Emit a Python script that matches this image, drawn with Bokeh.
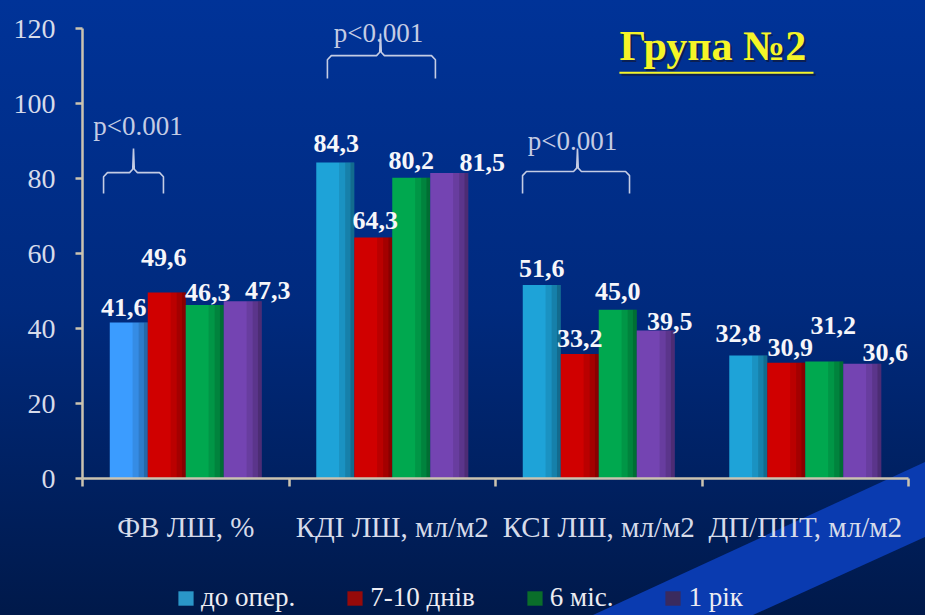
from urllib.parse import quote

from bokeh.plotting import figure
from bokeh.layouts import column
from bokeh.models import Range1d, FixedTicker, Legend, LegendItem, ColumnDataSource
from bokeh.core.properties import value
from bokeh.embed import file_html
from bokeh.resources import INLINE

# ---- data -------------------------------------------------------------
categories = ["ФВ ЛШ, %", "КДІ ЛШ, мл/м2", "КСІ ЛШ, мл/м2", "ДП/ППТ, мл/м2"]
series_names = ["до опер.", "7-10 днів", "6 міс.", "1 рік"]
before_op = [41.6, 84.3, 51.6, 32.8]
days_7_10 = [49.6, 64.3, 33.2, 30.9]
months_6 = [46.3, 80.2, 45.0, 31.2]
year_1 = [47.3, 81.5, 39.5, 30.6]
y_ticks = [0, 20, 40, 60, 80, 100, 120]
p_text = "p<0.001"
title_text = "Група №2"

series = [before_op, days_7_10, months_6, year_1]

# ---- styling ----------------------------------------------------------
SERIF = "Liberation Serif"
W, H, LEG_H = 925, 615, 35
bar_colors = [
    ["#3b9cff", "#1ea3d8", "#1ea3d8", "#1ea3d8"],
    ["#d00000"] * 4,
    ["#00a84f"] * 4,
    ["#7444b2"] * 4,
]
legend_colors = ["#2a96c8", "#960a0a", "#0a6e2a", "#3a2a5e"]
bar_offsets = [-0.276, -0.092, 0.092, 0.276]
bar_width = 0.184
# value label nudges in screen pixels (dx, dy)
label_nudge = [
    [(-5, -15), (1, -19), (0, -17), (-10, -22)],
    [(-3, -35), (2, -17), (0, -16), (4, -15)],
    [(3, -12), (0, -17), (0, -18), (9, -36)],
    [(25, -11), (33, -10), (14, -9), (23, -11)],
]
axis_color = "#cbc3b0"
tick_label_color = "#d6dbea"

# slide backdrop: vertical blue gradient with a diagonal band
backdrop_svg = (
    f'<svg xmlns="http://www.w3.org/2000/svg" width="{W}" height="{H}">'
    '<defs><linearGradient id="g" x1="0" y1="0" x2="0" y2="1">'
    '<stop offset="0" stop-color="#003398"/>'
    '<stop offset="0.5" stop-color="#002a7e"/>'
    '<stop offset="1" stop-color="#00194a"/>'
    '</linearGradient></defs>'
    f'<rect width="{W}" height="{H}" fill="url(#g)"/>'
    '<polygon points="925,462 925,537 753,615 593,615" fill="#0a3bb0"/>'
    '</svg>'
)

p = figure(
    width=W, height=H - LEG_H,
    x_range=Range1d(0, 4), y_range=Range1d(0, 127.5),
    output_backend="svg", toolbar_location=None, title=None,
    min_border_left=82, min_border_right=17,
    min_border_top=0, min_border_bottom=H - LEG_H - 478,
)
p.background_fill_alpha = 0
p.border_fill_alpha = 0
p.outline_line_color = None
p.grid.visible = False

# ---- bars -------------------------------------------------------------
sources = []
for si, vals in enumerate(series):
    xs = [i + 0.5 + bar_offsets[si] for i in range(len(categories))]
    src = ColumnDataSource(dict(
        x=xs, top=vals, color=bar_colors[si],
        label=[f"{v:.1f}".replace(".", ",") for v in vals],
        dx=[d[0] for d in label_nudge[si]],
        dy=[d[1] for d in label_nudge[si]],
    ))
    sources.append(src)
    p.vbar(x="x", top="top", width=bar_width, source=src,
           fill_color="color", line_color=None)
    # soft shading towards the right edge of each bar
    for frac, alpha in [(0.40, 0.10), (0.24, 0.12), (0.10, 0.16)]:
        sx = [x + bar_width / 2 - bar_width * frac / 2 for x in xs]
        p.vbar(x=sx, top=vals, width=bar_width * frac,
               fill_color="black", fill_alpha=alpha, line_color=None)

# value labels sit on top of every bar
for src in sources:
    p.text(x="x", y="top", text="label", source=src,
           x_offset="dx", y_offset="dy",
           text_align="center", text_baseline="alphabetic",
           text_font=value(SERIF), text_font_style="bold",
           text_font_size="26px", text_color="#f6f6fa")

# ---- significance braces ---------------------------------------------
braces = [
    # x0, x1, xc, y_end, y_bar, y_peak, text_x, text_y
    (0.102, 0.392, 0.247, 76.0, 81.6, 88.0, 0.269, 94.1),
    (1.186, 1.709, 1.443, 106.7, 112.8, 118.7, 1.433, 118.9),
    (2.131, 2.649, 2.397, 76.0, 81.9, 88.0, 2.373, 90.1),
]
bx, by = 0.019, 1.1
for x0, x1, xc, ye, yb, yp, tx, ty in braces:
    xs = [x0, x0, x0 + bx, xc - bx, xc - bx * 0.2, xc,
          xc + bx * 0.2, xc + bx, x1 - bx, x1, x1]
    ys = [ye, yb - by, yb, yb, yb + by * 0.8, yp,
          yb + by * 0.8, yb, yb, yb - by, ye]
    p.line(xs, ys, line_color="#c4cce4", line_width=1.6)
    p.text(x=[tx], y=[ty], text=[p_text], text_align="center",
           text_baseline="alphabetic", text_font=value(SERIF),
           text_font_size="27px", text_color="#c4cce4")

# ---- heading ----------------------------------------------------------
tx0, tx1, ty = 2.600, 3.540, 109.3
p.text(x=[tx0], y=[ty], text=[title_text], x_offset=2, y_offset=2,
       text_font=value(SERIF), text_font_style="bold",
       text_font_size="42px", text_color="#101838", text_alpha=0.7)
p.segment(x0=[tx0 + 0.01], y0=[ty - 1.6], x1=[tx1 + 0.01], y1=[ty - 1.6],
          line_color="#101838", line_alpha=0.7, line_width=2)
p.text(x=[tx0], y=[ty], text=[title_text],
       text_font=value(SERIF), text_font_style="bold",
       text_font_size="42px", text_color="#f5f528")
p.segment(x0=[tx0], y0=[ty - 1.1], x1=[tx1], y1=[ty - 1.1],
          line_color="#f5f528", line_width=2)

# ---- axes -------------------------------------------------------------
ya = p.yaxis[0]
ya.ticker = FixedTicker(ticks=y_ticks, minor_ticks=[])
ya.bounds = (0, 120)
ya.axis_line_color = axis_color
ya.axis_line_width = 2.5
ya.major_tick_line_color = axis_color
ya.major_tick_line_width = 2.5
ya.major_tick_out = 7
ya.major_tick_in = 0
ya.major_label_standoff = 20
ya.major_label_text_font = SERIF
ya.major_label_text_font_size = "28px"
ya.major_label_text_color = tick_label_color

xa = p.xaxis[0]
xa.ticker = FixedTicker(ticks=[i + 0.5 for i in range(len(categories))],
                        minor_ticks=list(range(len(categories) + 1)))
xa.major_label_overrides = {i + 0.5: c for i, c in enumerate(categories)}
xa.axis_line_color = axis_color
xa.axis_line_width = 2.5
xa.major_tick_line_color = None
xa.major_tick_out = 0
xa.major_tick_in = 0
xa.minor_tick_line_color = axis_color
xa.minor_tick_line_width = 2.5
xa.minor_tick_out = 8
xa.minor_tick_in = 0
xa.major_label_standoff = 24
xa.major_label_text_font = SERIF
xa.major_label_text_font_size = "29px"
xa.major_label_text_color = tick_label_color

# ---- legend strip (its frame lines up with the chart frame) -----------
lp = figure(
    width=W, height=LEG_H, x_range=Range1d(0, 1), y_range=Range1d(0, 1),
    output_backend="svg", toolbar_location=None, title=None,
    x_axis_type=None, y_axis_type=None, min_border=0,
)
lp.background_fill_alpha = 0
lp.border_fill_alpha = 0
lp.outline_line_color = None
lp.grid.visible = False

nan = float("nan")
items = []
for name, col in zip(series_names, legend_colors):
    # swatch-only renderer: a single undefined bar that never shows in the strip
    r = lp.vbar(x=[nan], top=[nan], width=0.1, fill_color=col, line_color=None)
    items.append(LegendItem(label=name, renderers=[r]))
legend = Legend(
    items=items, orientation="horizontal", location=(94, 2),
    label_text_font=SERIF, label_text_font_size="27px",
    label_text_color="#ececf2", glyph_width=19, glyph_height=18,
    label_standoff=6, spacing=50, padding=0, margin=0,
    background_fill_alpha=0, border_line_alpha=0,
)
lp.add_layout(legend, "center")

page = column(p, lp, width=W, height=H, spacing=0)
page.styles = {
    "background-image": f'url("data:image/svg+xml,{quote(backdrop_svg)}")',
    "background-size": f"{W}px {H}px",
    "background-repeat": "no-repeat",
}

open("out.html", "w").write(file_html(page, INLINE))
